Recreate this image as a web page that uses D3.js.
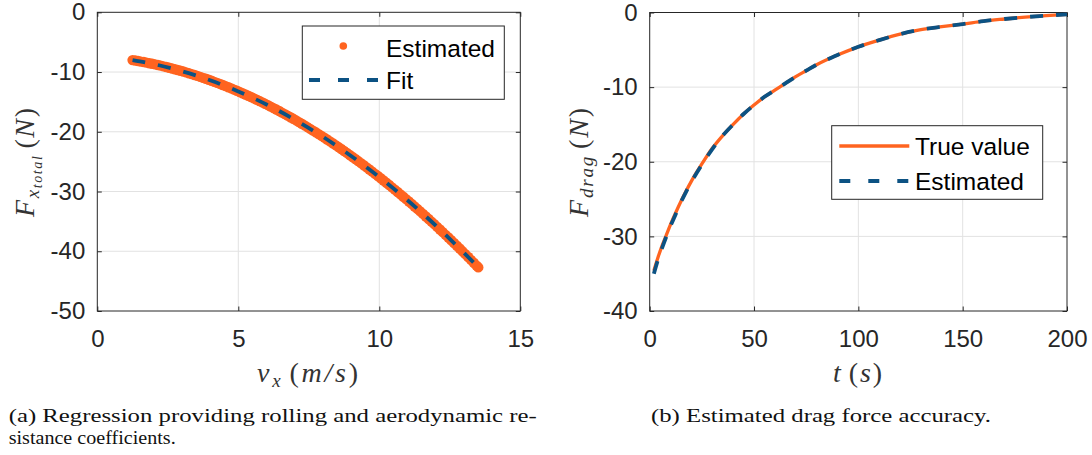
<!DOCTYPE html>
<html>
<head>
<meta charset="utf-8">
<script src="https://cdn.jsdelivr.net/npm/d3@7"></script>
<style>
  body { margin: 0; background: #fff; }
  svg { display: block; }
</style>
</head>
<body>
<div id="chart"></div>
<script>
// panel (a): estimated points and quadratic fit
var vxEst = [1.25, 1.35, 1.45, 1.55, 1.65, 1.75, 1.85, 1.95, 2.05, 2.15, 2.25, 2.35, 2.45, 2.55, 2.65, 2.75,
  2.85, 2.95, 3.05, 3.15, 3.25, 3.35, 3.45, 3.55, 3.65, 3.75, 3.85, 3.95, 4.05, 4.15, 4.25, 4.35, 4.45, 4.55,
  4.65, 4.75, 4.85, 4.95, 5.05, 5.15, 5.25, 5.35, 5.45, 5.55, 5.65, 5.75, 5.85, 5.95, 6.05, 6.15, 6.25, 6.35,
  6.45, 6.55, 6.65, 6.75, 6.85, 6.95, 7.05, 7.15, 7.25, 7.35, 7.45, 7.55, 7.65, 7.75, 7.85, 7.95, 8.05, 8.15,
  8.25, 8.35, 8.45, 8.55, 8.65, 8.75, 8.85, 8.95, 9.05, 9.15, 9.25, 9.35, 9.45, 9.55, 9.65, 9.75, 9.85, 9.95,
  10.05, 10.15, 10.25, 10.35, 10.45, 10.55, 10.65, 10.75, 10.85, 10.95, 11.05, 11.15, 11.25, 11.35, 11.45,
  11.55, 11.65, 11.75, 11.85, 11.95, 12.05, 12.15, 12.25, 12.35, 12.45, 12.55, 12.65, 12.75, 12.85, 12.95,
  13.05, 13.15, 13.25, 13.35, 13.45, 13.51];
var fxEst = [-8.00, -8.08, -8.16, -8.25, -8.33, -8.43, -8.52, -8.62, -8.72, -8.83, -8.93, -9.05, -9.16, -9.28,
  -9.40, -9.53, -9.66, -9.79, -9.92, -10.06, -10.20, -10.35, -10.50, -10.65, -10.81, -10.97, -11.13, -11.29,
  -11.46, -11.64, -11.81, -11.99, -12.17, -12.36, -12.55, -12.74, -12.94, -13.14, -13.34, -13.55, -13.76, -13.97,
  -14.18, -14.40, -14.63, -14.85, -15.08, -15.32, -15.55, -15.79, -16.04, -16.28, -16.53, -16.79, -17.04, -17.30,
  -17.57, -17.83, -18.10, -18.38, -18.65, -18.93, -19.22, -19.51, -19.80, -20.09, -20.39, -20.69, -20.99, -21.30,
  -21.61, -21.92, -22.24, -22.56, -22.89, -23.21, -23.54, -23.88, -24.22, -24.56, -24.90, -25.25, -25.60, -25.95,
  -26.31, -26.67, -27.04, -27.41, -27.78, -28.15, -28.53, -28.91, -29.30, -29.68, -30.08, -30.47, -30.87, -31.27,
  -31.67, -32.08, -32.50, -32.91, -33.33, -33.75, -34.18, -34.60, -35.04, -35.47, -35.91, -36.35, -36.80, -37.25,
  -37.70, -38.15, -38.61, -39.08, -39.54, -40.01, -40.48, -40.96, -41.44, -41.92, -42.41, -42.70];
var vxFit = [1.25, 2, 3, 4, 5, 6, 7, 8, 9, 10, 11, 12, 13, 13.51];
var fxFit = [-8.00, -8.67, -9.86, -11.38, -13.24, -15.43, -17.97, -20.84, -24.05, -27.59, -31.47, -35.69, -40.25, -42.70];

// panel (b): drag force, true vs estimated
var tTrue = [2, 4, 6, 8, 10, 12.5, 15, 17.5, 20, 25, 30, 35, 40, 45, 50, 55, 60, 65, 70, 75, 80, 90, 100,
  110, 120, 130, 140, 150, 160, 170, 180, 190, 200];
var fTrue = [-34.6, -32.8, -31.2, -29.8, -28.4, -26.8, -25.3, -23.9, -22.6, -20.3, -18.2, -16.5, -15.0, -13.6,
  -12.4, -11.3, -10.4, -9.5, -8.6, -7.8, -7.0, -5.7, -4.6, -3.7, -2.9, -2.3, -1.9, -1.55, -1.15, -0.87, -0.62, -0.42, -0.25];
var tEst = tTrue;
var fEst = [-35.0, -33.1, -31.5, -30.0, -28.6, -27.0, -25.4, -24.0, -22.7, -20.4, -18.3, -16.5, -15.0, -13.6,
  -12.4, -11.3, -10.4, -9.5, -8.6, -7.8, -7.0, -5.7, -4.6, -3.7, -2.9, -2.3, -1.9, -1.55, -1.15, -0.87, -0.62, -0.42, -0.25];

var xTicksA = [0, 5, 10, 15];
var yTicksA = [0, -10, -20, -30, -40, -50];
var xTicksB = [0, 50, 100, 150, 200];
var yTicksB = [0, -10, -20, -30, -40];

var orange = "#ff6420";
var blue = "#0c5283";
var ink = "#262626";

var svg = d3.select("#chart").append("svg").attr("width", 1092).attr("height", 455);
svg.append("rect").attr("width", 1092).attr("height", 455).attr("fill", "#fff");

function panel(p) {
  var x = d3.scaleLinear().domain(p.xDom).range([p.left, p.right]);
  var y = d3.scaleLinear().domain(p.yDom).range([p.bottom, p.top]);
  var g = svg.append("g");

  // grid
  g.selectAll(".gx").data(p.xTicks.slice(1, -1)).enter().append("line")
    .attr("x1", d => x(d)).attr("x2", d => x(d)).attr("y1", p.top).attr("y2", p.bottom)
    .attr("stroke", "#e2e2e2").attr("stroke-width", 1);
  g.selectAll(".gy").data(p.yTicks.slice(1, -1)).enter().append("line")
    .attr("y1", d => y(d)).attr("y2", d => y(d)).attr("x1", p.left).attr("x2", p.right)
    .attr("stroke", "#e2e2e2").attr("stroke-width", 1);

  // axes, ticks pointing inward
  var fmt = d => String(d);
  g.append("g").attr("transform", "translate(0," + p.bottom + ")")
    .call(d3.axisBottom(x).tickValues(p.xTicks).tickSizeInner(-4.5).tickSizeOuter(0).tickPadding(19).tickFormat(fmt));
  g.append("g").attr("transform", "translate(" + p.left + ",0)")
    .call(d3.axisLeft(y).tickValues(p.yTicks).tickSizeInner(-4.5).tickSizeOuter(0).tickPadding(12).tickFormat(fmt));
  g.append("g").attr("transform", "translate(0," + p.top + ")")
    .call(d3.axisTop(x).tickValues(p.xTicks).tickSizeInner(-4.5).tickSizeOuter(0).tickFormat(""));
  g.append("g").attr("transform", "translate(" + p.right + ",0)")
    .call(d3.axisRight(y).tickValues(p.yTicks).tickSizeInner(-4.5).tickSizeOuter(0).tickFormat(""));
  g.selectAll(".domain").remove();
  g.selectAll(".tick line").attr("stroke", ink);
  g.selectAll(".tick text").attr("fill", ink).style("font-family", "'Liberation Sans', Arial, sans-serif").style("font-size", "24px");

  g.append("rect").attr("x", p.left).attr("y", p.top).attr("width", p.right - p.left).attr("height", p.bottom - p.top)
    .attr("fill", "none").attr("stroke", ink).attr("stroke-width", 1);

  return { x: x, y: y, g: g };
}

function serif(sel) {
  return sel.style("font-family", "'Liberation Serif', 'Times New Roman', serif").style("font-style", "italic")
    .attr("fill", "#333").attr("lengthAdjust", "spacing");
}

// ---------- panel (a) ----------
var A = panel({ xDom: [0, 15], yDom: [-50, 0], left: 97.3, right: 520.3, top: 12.3, bottom: 311,
  xTicks: xTicksA, yTicks: yTicksA });

A.g.append("g").selectAll("circle").data(vxEst).enter().append("circle")
  .attr("cx", d => A.x(d)).attr("cy", (d, i) => A.y(fxEst[i])).attr("r", 5.2).attr("fill", orange);

var lineA = d3.line().x(d => A.x(d[0])).y(d => A.y(d[1])).curve(d3.curveNatural);
A.g.append("path").datum(vxFit.map((v, i) => [v, fxFit[i]])).attr("d", lineA)
  .attr("fill", "none").attr("stroke", blue).attr("stroke-width", 3.8).attr("stroke-dasharray", "13,13");

// legend (a)
var LA = A.g.append("g");
LA.append("rect").attr("x", 302.3).attr("y", 26).attr("width", 202).attr("height", 73.3)
  .attr("fill", "#fff").attr("stroke", ink).attr("stroke-width", 1);
LA.append("circle").attr("cx", 343.3).attr("cy", 46).attr("r", 3.8).attr("fill", orange);
LA.append("line").attr("x1", 309).attr("x2", 379.5).attr("y1", 80).attr("y2", 80)
  .attr("stroke", blue).attr("stroke-width", 3.8).attr("stroke-dasharray", "11,18");
LA.selectAll("text").data(["Estimated", "Fit"]).enter().append("text")
  .attr("x", 386).attr("y", (d, i) => i === 0 ? 57 : 88.8).text(d => d)
  .attr("fill", "#000").style("font-family", "'Liberation Sans', Arial, sans-serif").style("font-size", "24.5px");

// axis labels (a)
serif(svg.append("text").attr("x", 257).attr("y", 382).attr("textLength", 101).style("font-size", "28px"))
  .call(t => {
    t.append("tspan").text("v");
    t.append("tspan").text("x").style("font-size", "19px").attr("dy", 5);
    t.append("tspan").text("(").style("font-style", "normal").attr("dy", -5).attr("dx", 6);
    t.append("tspan").text("m/s");
    t.append("tspan").text(")").style("font-style", "normal");
  });
serif(svg.append("text").attr("transform", "translate(34,217) rotate(-90)").attr("textLength", 109).style("font-size", "28px"))
  .call(t => {
    t.append("tspan").text("F");
    t.append("tspan").text("x").style("font-size", "19px").attr("dy", 5);
    t.append("tspan").text("total").style("font-size", "14px").attr("dy", 3);
    t.append("tspan").text("(").style("font-style", "normal").attr("dy", -8).attr("dx", 6);
    t.append("tspan").text("N");
    t.append("tspan").text(")").style("font-style", "normal");
  });

// ---------- panel (b) ----------
var B = panel({ xDom: [0, 200], yDom: [-40, 0], left: 649.7, right: 1067, top: 12.5, bottom: 311,
  xTicks: xTicksB, yTicks: yTicksB });

var lineB = d3.line().x(d => B.x(d[0])).y(d => B.y(d[1])).curve(d3.curveMonotoneX);
B.g.append("path").datum(tTrue.map((t, i) => [t, fTrue[i]])).attr("d", lineB)
  .attr("fill", "none").attr("stroke", orange).attr("stroke-width", 3.3);
B.g.append("path").datum(tEst.map((t, i) => [t, fEst[i]])).attr("d", lineB)
  .attr("fill", "none").attr("stroke", blue).attr("stroke-width", 3.8).attr("stroke-dasharray", "13,13");

// legend (b)
var LB = B.g.append("g");
LB.append("rect").attr("x", 831.7).attr("y", 125.7).attr("width", 211).attr("height", 73.6)
  .attr("fill", "#fff").attr("stroke", ink).attr("stroke-width", 1);
LB.append("line").attr("x1", 839.3).attr("x2", 909.3).attr("y1", 146).attr("y2", 146)
  .attr("stroke", orange).attr("stroke-width", 3.3);
LB.append("line").attr("x1", 839.3).attr("x2", 909.3).attr("y1", 181).attr("y2", 181)
  .attr("stroke", blue).attr("stroke-width", 3.8).attr("stroke-dasharray", "11,18");
LB.selectAll("text").data(["True value", "Estimated"]).enter().append("text")
  .attr("x", 915).attr("y", (d, i) => i === 0 ? 154.8 : 189.8).text(d => d)
  .attr("fill", "#000").style("font-family", "'Liberation Sans', Arial, sans-serif").style("font-size", "24.5px");

// axis labels (b)
serif(svg.append("text").attr("x", 833).attr("y", 382).attr("textLength", 49).style("font-size", "28px"))
  .call(t => {
    t.append("tspan").text("t");
    t.append("tspan").text("(").style("font-style", "normal").attr("dx", 6);
    t.append("tspan").text("s");
    t.append("tspan").text(")").style("font-style", "normal");
  });
serif(svg.append("text").attr("transform", "translate(588,217) rotate(-90)").attr("textLength", 109).style("font-size", "28px"))
  .call(t => {
    t.append("tspan").text("F");
    t.append("tspan").text("drag").style("font-size", "19px").attr("dy", 5);
    t.append("tspan").text("(").style("font-style", "normal").attr("dy", -5).attr("dx", 6);
    t.append("tspan").text("N");
    t.append("tspan").text(")").style("font-style", "normal");
  });

// captions
var capFont = "'Liberation Serif', 'Times New Roman', serif";
svg.append("text").attr("x", 8.7).attr("y", 422).attr("textLength", 528).attr("lengthAdjust", "spacingAndGlyphs")
  .text("(a) Regression providing rolling and aerodynamic re-")
  .attr("fill", "#111").style("font-family", capFont).style("font-size", "19.5px");
svg.append("text").attr("x", 8.7).attr("y", 444).attr("textLength", 167).attr("lengthAdjust", "spacingAndGlyphs")
  .text("sistance coefficients.")
  .attr("fill", "#111").style("font-family", capFont).style("font-size", "19.5px");
svg.append("text").attr("x", 651).attr("y", 422).attr("textLength", 340).attr("lengthAdjust", "spacingAndGlyphs")
  .text("(b) Estimated drag force accuracy.")
  .attr("fill", "#111").style("font-family", capFont).style("font-size", "19.5px");
</script>
</body>
</html>
